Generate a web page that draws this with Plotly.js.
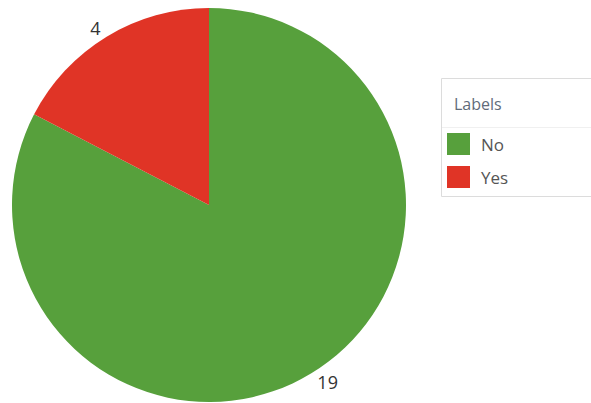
<!DOCTYPE html>
<html><head><meta charset="utf-8">
<script src="https://cdn.plot.ly/plotly-3.0.1.min.js"></script>
<style>html,body{margin:0;padding:0;background:#fff;}#chart{width:591px;height:403px;}</style>
</head><body><div id="chart"></div>
<script>
// Data
const labels = ["No", "Yes"];
const values = [19, 4];
const colors = ["#57A03C", "#E03426"];
const legendOrder = ["No", "Yes"];
const legendTitle = "Labels";

const W = 591, H = 403;
const px = x => x / W;
const py = y => 1 - y / H;

const trace = {
  type: "pie",
  labels: labels,
  values: values,
  marker: {colors: colors, line: {width: 0}},
  sort: false,
  direction: "clockwise",
  rotation: 0,
  textinfo: "value",
  textposition: "outside",
  outsidetextfont: {family: "Open Sans, sans-serif", size: 18, color: "#333"},
  hoverinfo: "label+value",
  showlegend: false,
  automargin: false,
  domain: {x: [px(12), px(406)], y: [py(402), py(8)]}
};

const shapes = [
  {type: "rect", xref: "paper", yref: "paper", x0: px(441.5), x1: px(600), y0: py(196.5), y1: py(78.5),
   line: {color: "#dcdcdc", width: 1}, fillcolor: "rgba(0,0,0,0)"},
  {type: "line", xref: "paper", yref: "paper", x0: px(442), x1: px(600), y0: py(127.5), y1: py(127.5),
   line: {color: "#f0f0f0", width: 1}}
];
const annotations = [
  {xref: "paper", yref: "paper", x: px(452), y: py(104), xanchor: "left", yanchor: "middle",
   text: legendTitle, showarrow: false, font: {family: "Open Sans, sans-serif", size: 16, color: "#5f6b7a"}}
];
legendOrder.forEach((lab, i) => {
  const top = 133 + i * 33;
  const c = colors[labels.indexOf(lab)];
  shapes.push({type: "rect", xref: "paper", yref: "paper", x0: px(447), x1: px(470), y0: py(top + 22), y1: py(top),
    line: {width: 0}, fillcolor: c});
  annotations.push({xref: "paper", yref: "paper", x: px(479), y: py(top + 11), xanchor: "left", yanchor: "middle",
    text: lab, showarrow: false, font: {family: "Open Sans, sans-serif", size: 17, color: "#555"}});
});

const layout = {
  width: W, height: H,
  margin: {l: 0, r: 0, t: 0, b: 0},
  paper_bgcolor: "#fff",
  showlegend: false,
  shapes: shapes,
  annotations: annotations
};
Plotly.newPlot("chart", [trace], layout, {displayModeBar: false, staticPlot: true});
</script></body></html>
